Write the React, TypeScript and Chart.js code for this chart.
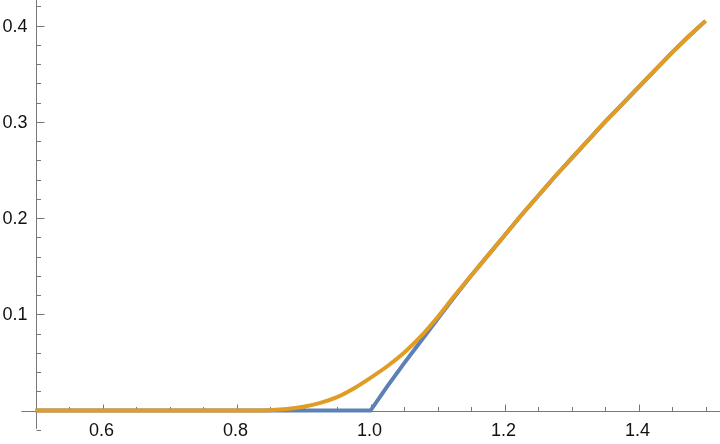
import { useEffect, useRef } from "react";
import { Chart, registerables } from "chart.js";

Chart.register(...registerables);

const xValues = [
  0.5, 0.525, 0.55, 0.575, 0.6, 0.625, 0.65, 0.675, 0.7, 0.725, 0.75, 0.775, 0.8,
  0.825, 0.85, 0.875, 0.9, 0.925, 0.95, 0.975, 1.0, 1.025, 1.05, 1.075, 1.1, 1.125,
  1.15, 1.175, 1.2, 1.225, 1.25, 1.275, 1.3, 1.325, 1.35, 1.375, 1.4, 1.425, 1.45,
  1.475, 1.5,
];

const blueValues = [
  0, 0, 0, 0, 0, 0, 0, 0, 0, 0, 0, 0, 0,
  0, 0, 0, 0, 0, 0, 0, 0, 0.025, 0.049, 0.072, 0.095, 0.118,
  0.14, 0.161, 0.182, 0.203, 0.223, 0.243, 0.262, 0.281, 0.3, 0.318, 0.336, 0.354, 0.372,
  0.389, 0.405,
];

const orangeValues = [
  0, 0, 0, 0, 0, 0, 0, 0, 0, 0, 0, 0, 0,
  0, 0.0004, 0.0015, 0.004, 0.008, 0.014, 0.023, 0.034, 0.046, 0.06, 0.077, 0.097, 0.119,
  0.14, 0.161, 0.182, 0.203, 0.223, 0.243, 0.262, 0.281, 0.3, 0.318, 0.336, 0.354, 0.372,
  0.389, 0.405,
];

const xMajorTicks = [0.6, 0.8, 1.0, 1.2, 1.4];
const xTickLabels = ["0.6", "0.8", "1.0", "1.2", "1.4"];
const xMinorTicks = [
  0.55, 0.65, 0.7, 0.75, 0.85, 0.9, 0.95, 1.05, 1.1, 1.15, 1.25, 1.3, 1.35, 1.45, 1.5,
];
const yMajorTicks = [0.1, 0.2, 0.3, 0.4];
const yTickLabels = ["0.1", "0.2", "0.3", "0.4"];
const yMinorTicks = [
  -0.02, 0.02, 0.04, 0.06, 0.08, 0.12, 0.14, 0.16, 0.18, 0.22, 0.24, 0.26, 0.28, 0.32,
  0.34, 0.36, 0.38, 0.42,
];

const AXIS_COLOR = "#777777";
const LABEL_FONT = '18px "Liberation Sans", Arial, sans-serif';

const axesPlugin = {
  id: "mmaAxes",
  beforeDatasetsDraw(chart: any) {
    const { ctx } = chart;
    const xs = chart.scales.x;
    const ys = chart.scales.y;
    const x0 = Math.round(xs.getPixelForValue(0.5)) + 0.5;
    const y0 = Math.round(ys.getPixelForValue(0)) + 0.5;
    ctx.save();
    ctx.strokeStyle = AXIS_COLOR;
    ctx.lineWidth = 1;
    ctx.beginPath();
    ctx.moveTo(xs.getPixelForValue(0.479), y0);
    ctx.lineTo(chart.width, y0);
    ctx.moveTo(x0, ys.getPixelForValue(-0.019));
    ctx.lineTo(x0, 0);
    for (const t of xMajorTicks) {
      const p = Math.round(xs.getPixelForValue(t)) + 0.5;
      ctx.moveTo(p, y0);
      ctx.lineTo(p, y0 - 7);
    }
    for (const t of xMinorTicks) {
      const p = Math.round(xs.getPixelForValue(t)) + 0.5;
      ctx.moveTo(p, y0);
      ctx.lineTo(p, y0 - 4.5);
    }
    for (const t of yMajorTicks) {
      const p = Math.round(ys.getPixelForValue(t)) + 0.5;
      ctx.moveTo(x0, p);
      ctx.lineTo(x0 + 8, p);
    }
    for (const t of yMinorTicks) {
      const p = Math.round(ys.getPixelForValue(t)) + 0.5;
      ctx.moveTo(x0, p);
      ctx.lineTo(x0 + 4.5, p);
    }
    ctx.stroke();
    ctx.restore();
  },
  afterDraw(chart: any) {
    const { ctx } = chart;
    const xs = chart.scales.x;
    const ys = chart.scales.y;
    const x0 = xs.getPixelForValue(0.5);
    const y0 = ys.getPixelForValue(0);
    ctx.save();
    ctx.fillStyle = "#111111";
    ctx.font = LABEL_FONT;
    ctx.textAlign = "center";
    ctx.textBaseline = "alphabetic";
    xMajorTicks.forEach((t, i) => {
      ctx.fillText(xTickLabels[i], xs.getPixelForValue(t) - 1, y0 + 25.5);
    });
    ctx.textAlign = "right";
    ctx.textBaseline = "middle";
    yMajorTicks.forEach((t, i) => {
      ctx.fillText(yTickLabels[i], x0 - 8, ys.getPixelForValue(t) + 1);
    });
    ctx.restore();
  },
};

export default function App() {
  const ref = useRef<HTMLCanvasElement | null>(null);

  useEffect(() => {
    document.body.style.margin = "0";
    const canvas = ref.current;
    if (!canvas) return;
    const blue = xValues.map((x, i) => ({ x, y: blueValues[i] }));
    const orange = xValues.map((x, i) => ({ x, y: orangeValues[i] }));
    const chart = new Chart(canvas, {
      type: "line",
      data: {
        datasets: [
          {
            data: blue,
            borderColor: "#5E81B5",
            borderWidth: 4,
            pointRadius: 0,
            tension: 0,
            fill: false,
            order: 2,
          },
          {
            data: orange,
            borderColor: "#E19C24",
            borderWidth: 4,
            pointRadius: 0,
            cubicInterpolationMode: "monotone",
            fill: false,
            order: 1,
          },
        ],
      },
      options: {
        animation: false,
        responsive: false,
        devicePixelRatio: 1,
        layout: { padding: 0 },
        plugins: {
          legend: { display: false },
          tooltip: { enabled: false },
          title: { display: false },
        },
        scales: {
          x: {
            type: "linear",
            display: false,
            min: 0.447,
            max: 1.5216,
          },
          y: {
            type: "linear",
            display: false,
            min: -0.0348,
            max: 0.4267,
          },
        },
      },
      plugins: [axesPlugin],
    });
    return () => chart.destroy();
  }, []);

  return (
    <div style={{ width: 720, height: 444, background: "#ffffff" }}>
      <canvas ref={ref} width={720} height={444} style={{ display: "block" }} />
    </div>
  );
}
